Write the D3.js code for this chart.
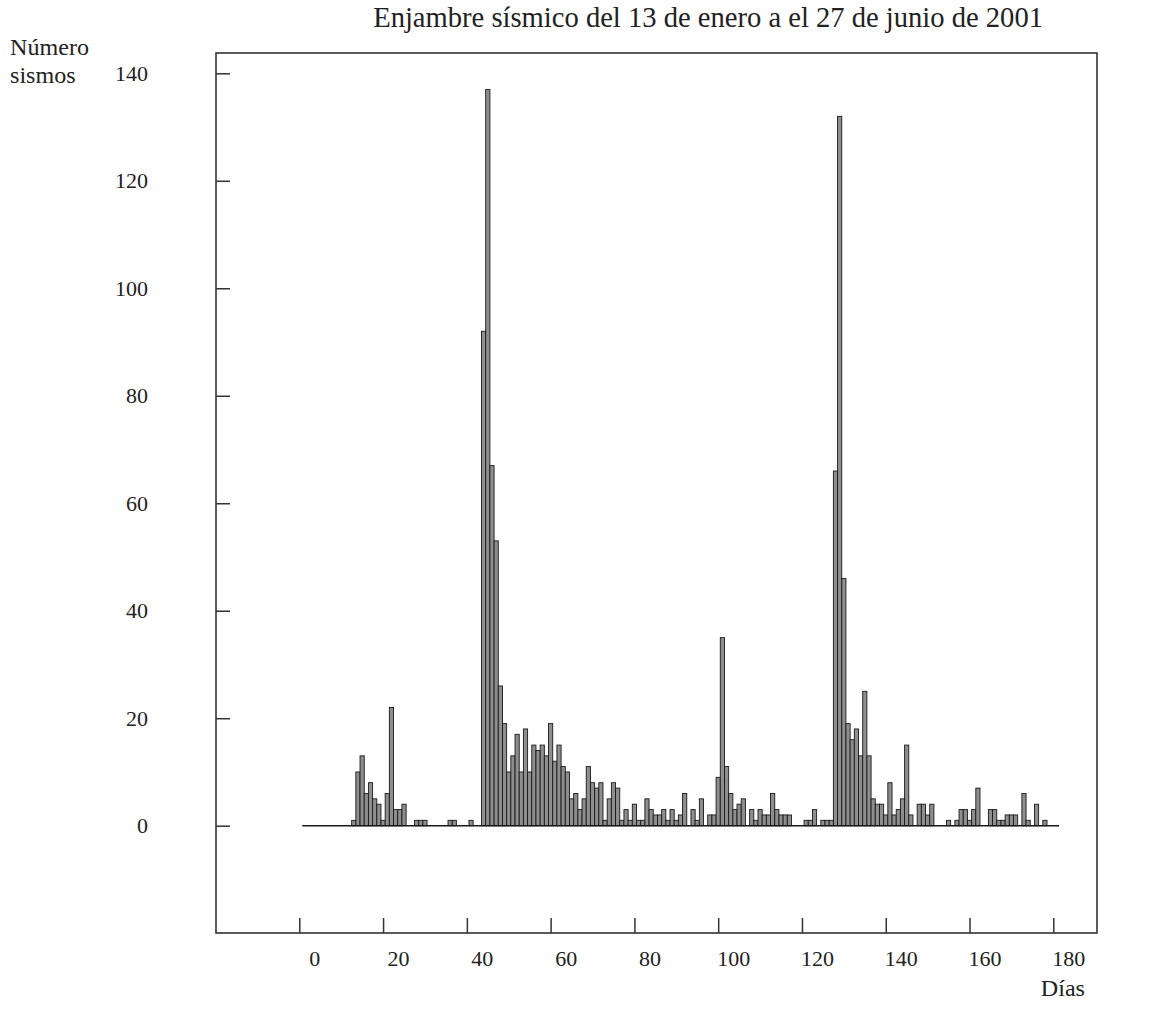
<!DOCTYPE html>
<html><head><meta charset="utf-8">
<script src="https://cdn.jsdelivr.net/npm/d3@7"></script>
<style>html,body{margin:0;padding:0;background:#fff;}</style>
</head><body>
<script>
const titleText = "Enjambre sísmico del 13 de enero a el 27 de junio de 2001";
const yLabelLines = ["Número", "sismos"];
const xLabel = "Días";
const xTicks = [0, 20, 40, 60, 80, 100, 120, 140, 160, 180];
const yTicks = [0, 20, 40, 60, 80, 100, 120, 140];
const days = [13,14,15,16,17,18,19,20,21,22,23,24,25,28,29,30,36,37,41,
 44,45,46,47,48,49,50,51,52,53,54,55,56,57,58,59,60,61,62,63,64,65,66,67,68,69,70,
 71,72,73,74,75,76,77,78,79,80,81,82,83,84,85,86,87,88,89,90,91,92,94,95,96,98,99,100,
 101,102,103,104,105,106,108,109,110,111,112,113,114,115,116,117,121,122,123,125,126,127,
 128,129,130,131,132,133,134,135,136,137,138,139,140,141,142,143,144,145,146,148,149,150,151,
 155,157,158,159,160,161,162,165,166,167,168,169,170,171,173,174,176,178];
const counts = [1,10,13,6,8,5,4,1,6,22,3,3,4,1,1,1,1,1,1,
 92,137,67,53,26,19,10,13,17,10,18,10,15,14,15,13,19,12,15,11,10,5,6,3,5,11,8,
 7,8,1,5,8,7,1,3,1,4,1,1,5,3,2,2,3,1,3,1,2,6,3,1,5,2,2,9,
 35,11,6,3,4,5,3,1,3,2,2,6,3,2,2,2,1,1,3,1,1,1,
 66,132,46,19,16,18,13,25,13,5,4,4,2,8,2,3,5,15,2,4,4,2,4,
 1,1,3,3,1,3,7,3,3,1,1,2,2,2,6,1,4,1];

const W = 1158, H = 1009;
const frame = {left: 216, top: 53, right: 1097, bottom: 933};
const svg = d3.select("body").append("svg").attr("width", W).attr("height", H)
  .style("font-family", "'Liberation Serif', 'DejaVu Serif', serif");

const x = d3.scaleLinear().domain([0, 180]).range([299.3, 1053.3]);
const y = d3.scaleLinear().domain([0, 140]).range([825.7, 73.3]);
const ink = "#222";

function fitText(sel, target) {
  const w = sel.node().getComputedTextLength();
  const fs = parseFloat(sel.attr("font-size"));
  sel.attr("font-size", fs * target / w);
}

// frame
svg.append("rect").attr("x", frame.left).attr("y", frame.top)
  .attr("width", frame.right - frame.left).attr("height", frame.bottom - frame.top)
  .attr("fill", "none").attr("stroke", "#333").attr("stroke-width", 1.6);

// bars
const data = days.map((d, i) => ({day: d, n: counts[i]}));
svg.append("g").selectAll("rect").data(data).join("rect")
  .attr("x", d => x(d.day - 0.5))
  .attr("width", d => x(d.day + 0.5) - x(d.day - 0.5))
  .attr("y", d => y(d.n))
  .attr("height", d => y(0) - y(d.n))
  .attr("fill", "#8e8e8e").attr("stroke", "#1a1a1a").attr("stroke-width", 0.9);

// zero baseline
svg.append("line").attr("x1", x(0.7)).attr("x2", x(181.4))
  .attr("y1", y(0)).attr("y2", y(0)).attr("stroke", "#1a1a1a").attr("stroke-width", 1.6);

// x axis
const xAxis = svg.append("g").attr("transform", `translate(0,${frame.bottom})`)
  .call(d3.axisBottom(x).tickValues(xTicks).tickSizeInner(-15).tickSizeOuter(0).tickPadding(17));
xAxis.select(".domain").remove();
xAxis.selectAll("line").attr("stroke", "#333").attr("stroke-width", 1.5);
xAxis.selectAll("text").attr("font-size", 22).attr("fill", ink)
  .attr("font-family", "'Liberation Serif', serif").attr("dx", 15);

// y axis
const yAxis = svg.append("g").attr("transform", `translate(${frame.left},0)`)
  .call(d3.axisLeft(y).tickValues(yTicks).tickSizeInner(-14).tickSizeOuter(0).tickPadding(68));
yAxis.select(".domain").remove();
yAxis.selectAll("line").attr("stroke", "#333").attr("stroke-width", 1.5);
yAxis.selectAll("text").attr("font-size", 22).attr("fill", ink)
  .attr("font-family", "'Liberation Serif', serif");

// title
const t = svg.append("text").attr("x", 1043).attr("y", 27).attr("text-anchor", "end")
  .attr("font-size", 20).attr("fill", ink).text(titleText);
fitText(t, 670);

// y label
yLabelLines.forEach((s, i) => {
  const tt = svg.append("text").attr("x", 10).attr("y", 55 + i * 28)
    .attr("font-size", 20).attr("fill", ink).text(s);
  if (i === 0) fitText(tt, 79);
});
// keep both lines same size
const ylabs = svg.selectAll("text").filter(function(){ return yLabelLines.includes(this.textContent); });
const fsY = d3.select(ylabs.nodes()[0]).attr("font-size");
ylabs.attr("font-size", fsY);

// x label
svg.append("text").attr("x", 1085).attr("y", 996).attr("text-anchor", "end")
  .attr("font-size", fsY).attr("fill", ink).text(xLabel);
</script>
</body></html>
